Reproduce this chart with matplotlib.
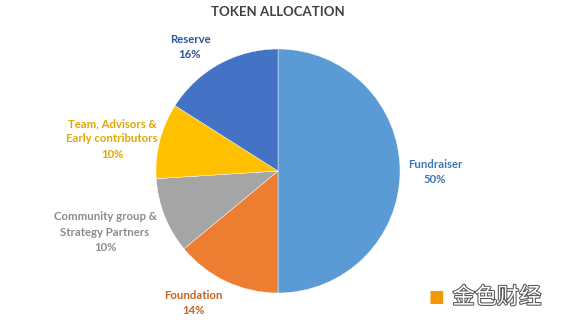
import matplotlib.pyplot as plt
import matplotlib.patheffects as pe

# data
labels = ['Fundraiser', 'Foundation', 'Community group &\nStrategy Partners',
          'Team, Advisors &\nEarly contributors', 'Reserve']
shares = [50, 14, 10, 10, 16]
colors = ['#5B9BD5', '#ED7D31', '#A5A5A5', '#FFC000', '#4472C4']
text_colors = ['#3F78B0', '#C8651E', '#8C8C8C', '#E0A800', '#2F5597']
# label centre positions in pixels (x, y from top)
label_pos = [(435, 172), (193, 303), (105, 232), (112, 139), (190, 47)]

W, H = 563, 323
fig = plt.figure(figsize=(W / 100, H / 100), dpi=100)
plt.rcParams['font.family'] = ['Lato', 'DejaVu Sans']

cx, cy, r = 278, 171, 122
ax = fig.add_axes([(cx - r) / W, (H - cy - r) / H, 2 * r / W, 2 * r / H])
ax.pie(shares, colors=colors, startangle=90, counterclock=False,
       wedgeprops=dict(edgecolor='white', linewidth=0.3), radius=1)
ax.set_xlim(-1, 1)
ax.set_ylim(-1, 1)
ax.set_aspect('auto')
ax.axis('off')

fig.text(278 / W, 1 - 12 / H, 'TOKEN ALLOCATION', ha='center', va='center',
         fontsize=9.5, fontweight='bold', color='#404040')

for lab, s, c, (x, y) in zip(labels, shares, text_colors, label_pos):
    fig.text(x / W, 1 - y / H, f'{lab}\n{s}%', ha='center', va='center',
             fontsize=8.2, fontweight='bold', color=c, linespacing=1.45)

# watermark
fig.text(429 / W, 1 - 297 / H, '■', color='#F39800', fontsize=12,
         ha='left', va='center')
fig.text(497 / W, 1 - 297 / H, '金色财经', fontsize=16,
         family=['Noto Sans CJK SC', 'DejaVu Sans'], color='white',
         ha='center', va='center',
         path_effects=[pe.withStroke(linewidth=1.5, foreground='#555555')])

fig.savefig('out.png', dpi=100)
